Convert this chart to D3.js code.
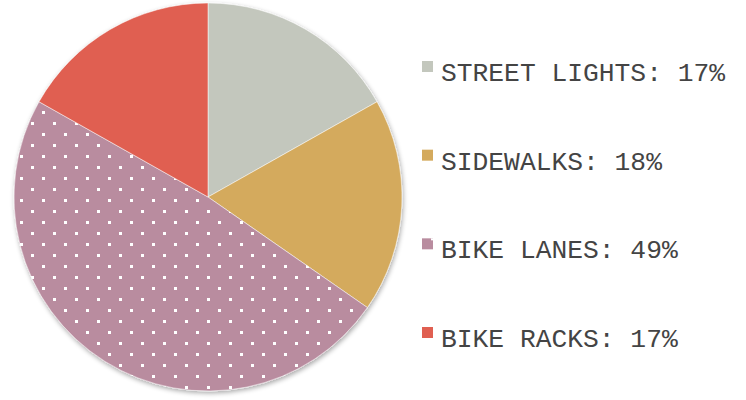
<!DOCTYPE html>
<html>
<head>
<meta charset="utf-8">
<script src="https://cdn.jsdelivr.net/npm/d3@7"></script>
<style>
  body { margin: 0; background: #fff; }
  svg { display: block; }
</style>
</head>
<body>
<div id="chart"></div>
<script>
// slice data, clockwise from 12 o'clock
const categories = ["STREET LIGHTS", "SIDEWALKS", "BIKE LANES", "BIKE RACKS"];
const values = [17, 18, 49, 17];
const colors = ["#c3c7bd", "#d4aa5d", "#b98c9f", "#e05f51"];
const patterned = [false, false, true, false];

const width = 746, height = 400;
const cx = 208, cy = 197, radius = 194;

const svg = d3.select("#chart").append("svg")
	.attr("width", width)
	.attr("height", height);

const defs = svg.append("defs");

const shadow = defs.append("filter")
	.attr("id", "shadow")
	.attr("x", "-10%").attr("y", "-10%")
	.attr("width", "120%").attr("height", "120%");
shadow.append("feGaussianBlur").attr("in", "SourceAlpha").attr("stdDeviation", 2.5);
shadow.append("feOffset").attr("dx", 1).attr("dy", 2).attr("result", "blur");
shadow.append("feComponentTransfer").append("feFuncA").attr("type", "linear").attr("slope", 0.35);
const merge = shadow.append("feMerge");
merge.append("feMergeNode");
merge.append("feMergeNode").attr("in", "SourceGraphic");

// dotted fill for the bike lanes slice
const pat = defs.append("pattern")
	.attr("id", "dots")
	.attr("patternUnits", "userSpaceOnUse")
	.attr("x", 0).attr("y", 2)
	.attr("width", 22).attr("height", 22);
pat.append("rect").attr("width", 22).attr("height", 22).attr("fill", colors[2]);
pat.append("rect").attr("x", 10).attr("y", 0).attr("width", 3).attr("height", 3).attr("fill", "#fff");
pat.append("rect").attr("x", -1).attr("y", 11).attr("width", 3).attr("height", 3).attr("fill", "#fff");
pat.append("rect").attr("x", 21).attr("y", 11).attr("width", 3).attr("height", 3).attr("fill", "#fff");

const data = categories.map((c, i) => ({ name: c, value: values[i], color: colors[i], dots: patterned[i] }));

const pie = d3.pie().sort(null).value(d => d.value);
const arc = d3.arc().innerRadius(0).outerRadius(radius);

const g = svg.append("g")
	.attr("transform", "translate(" + cx + "," + cy + ")")
	.attr("filter", "url(#shadow)");

g.selectAll("path.slice")
	.data(pie(data))
	.enter().append("path")
	.attr("class", "slice")
	.attr("d", arc)
	.attr("fill", d => d.data.dots ? "url(#dots)" : d.data.color)
	.attr("stroke", "#ffffff")
	.attr("stroke-opacity", 0.5)
	.attr("stroke-width", 1);

// legend
const y = d3.scalePoint().domain(categories).range([81, 347]);

const legend = svg.append("g").attr("class", "legend");
const item = legend.selectAll("g.item")
	.data(data)
	.enter().append("g")
	.attr("class", "item")
	.attr("transform", d => "translate(0," + y(d.name) + ")");

item.append("rect")
	.attr("x", 422)
	.attr("y", -20)
	.attr("width", 11)
	.attr("height", 11)
	.attr("fill", d => d.color);

item.filter(d => d.dots).append("rect")
	.attr("x", 431).attr("y", -20)
	.attr("width", 2).attr("height", 2)
	.attr("fill", "#fff");

item.append("text")
	.attr("x", 441)
	.attr("y", 0)
	.attr("font-family", "'Courier New', 'Liberation Mono', monospace")
	.attr("font-size", 26.3)
	.attr("fill", "#444")
	.text(d => d.name + ": " + d.value + "%");
</script>
</body>
</html>
